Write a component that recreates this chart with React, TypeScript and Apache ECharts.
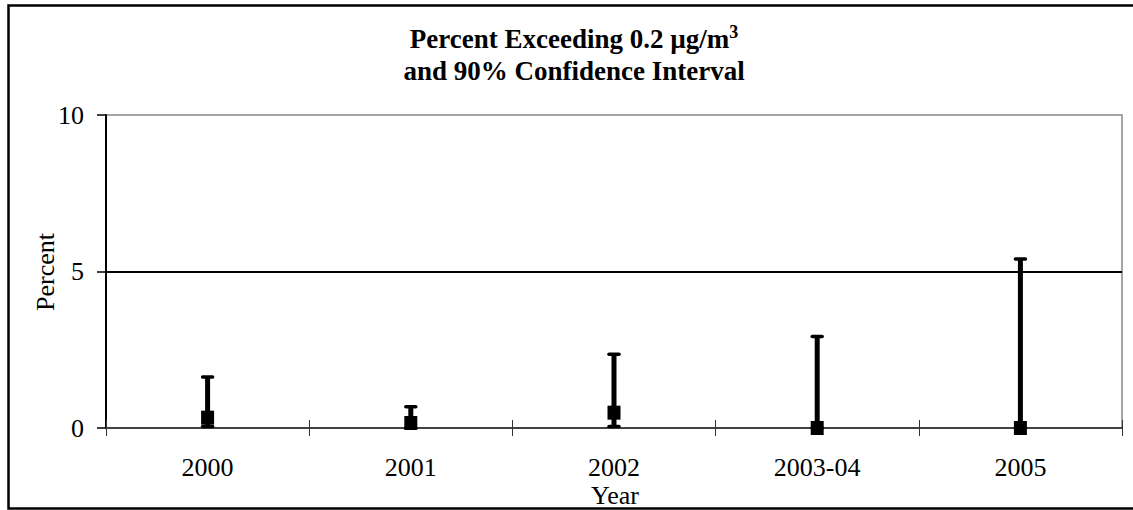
import React, { useEffect, useRef } from "react";
import * as echarts from "echarts";

const categories = ["2000", "2001", "2002", "2003-04", "2005"];
const percentValues = [0.33, 0.16, 0.49, 0, 0];
const lowerBounds = [0.05, 0, 0.05, 0, 0];
const upperBounds = [1.63, 0.68, 2.36, 2.92, 5.4];
const yMin = 0;
const yMax = 10;
const yInterval = 5;
const referenceLine = 5;

const FONT = "'Liberation Serif', 'Times New Roman', serif";

export default function App() {
  const ref = useRef<HTMLDivElement>(null);

  useEffect(() => {
    if (!ref.current) return;
    const chart = echarts.init(ref.current, null, { renderer: "svg" });

    const errorData = categories.map((_, i) => [i, lowerBounds[i], upperBounds[i]]);
    const pointData = categories.map((_, i) => [i, percentValues[i]]);

    const option: any = {
      animation: false,
      backgroundColor: "#ffffff",
      textStyle: { fontFamily: FONT },
      grid: {
        left: 106,
        right: 11,
        top: 115,
        bottom: 82,
        show: true,
        borderColor: "#888888",
        borderWidth: 1.5,
        backgroundColor: "transparent",
      },
      xAxis: [
        {
          type: "category",
          data: categories,
          boundaryGap: true,
          axisLine: { show: true, lineStyle: { color: "#222", width: 1.5 } },
          axisTick: { show: true, inside: false, length: 8, lineStyle: { color: "#333", width: 1 } },
          axisLabel: { color: "#000", fontFamily: FONT, fontSize: 26, margin: 26 },
          splitLine: { show: false },
        },
        {
          type: "category",
          data: categories,
          boundaryGap: true,
          position: "bottom",
          axisLine: { show: false },
          axisTick: { show: true, inside: true, length: 8, lineStyle: { color: "#333", width: 1 } },
          axisLabel: { show: false },
          splitLine: { show: false },
        },
      ],
      yAxis: {
        type: "value",
        min: yMin,
        max: yMax,
        interval: yInterval,
        axisLine: { show: true, lineStyle: { color: "#000", width: 2 } },
        axisTick: { show: true, inside: false, length: 9, lineStyle: { color: "#000", width: 1.5 } },
        axisLabel: { color: "#000", fontFamily: FONT, fontSize: 26, margin: 22 },
        splitLine: { show: false },
      },
      series: [
        {
          type: "custom",
          xAxisIndex: 0,
          yAxisIndex: 0,
          data: errorData,
          encode: { x: 0, y: [1, 2] },
          z: 3,
          renderItem: (params: any, api: any) => {
            const x = api.value(0);
            const lo = api.coord([x, api.value(1)]);
            const hi = api.coord([x, api.value(2)]);
            const capHalf = 5;
            return {
              type: "group",
              children: [
                {
                  type: "line",
                  shape: { x1: lo[0], y1: lo[1], x2: hi[0], y2: hi[1] },
                  style: { stroke: "#000", lineWidth: 5 },
                },
                {
                  type: "line",
                  shape: { x1: hi[0] - capHalf, y1: hi[1], x2: hi[0] + capHalf, y2: hi[1] },
                  style: { stroke: "#000", lineWidth: 3.5, lineCap: "round" },
                },
                {
                  type: "line",
                  shape: { x1: lo[0] - capHalf, y1: lo[1], x2: lo[0] + capHalf, y2: lo[1] },
                  style: { stroke: "#000", lineWidth: 3.5, lineCap: "round" },
                },
              ],
            };
          },
        },
        {
          type: "scatter",
          xAxisIndex: 0,
          yAxisIndex: 0,
          data: pointData,
          symbol: "rect",
          symbolSize: [13, 14],
          itemStyle: { color: "#000", opacity: 1 },
          z: 4,
          markLine: {
            silent: true,
            symbol: "none",
            label: { show: false },
            lineStyle: { color: "#000", width: 2, type: "solid", opacity: 1 },
            data: [{ yAxis: referenceLine }],
          },
        },
      ],
      graphic: [
        {
          type: "rect",
          z: 100,
          shape: { x: 8.5, y: 5.5, width: 1200, height: 503 },
          style: { fill: "none", stroke: "#000", lineWidth: 2.5 },
        },
        {
          type: "text",
          x: 574,
          y: 39,
          style: {
            text: "{a|Percent Exceeding 0.2 µg/m}{s|3}",
            align: "center",
            verticalAlign: "middle",
            rich: {
              a: { fontFamily: FONT, fontSize: 27, fontWeight: "bold", fill: "#000", lineHeight: 32 },
              s: { fontFamily: FONT, fontSize: 18, fontWeight: "bold", fill: "#000", lineHeight: 14, verticalAlign: "top" },
            },
          },
        },
        {
          type: "text",
          x: 574,
          y: 71,
          style: {
            text: "and 90% Confidence Interval",
            align: "center",
            verticalAlign: "middle",
            font: `bold 27px ${FONT}`,
            fill: "#000",
          },
        },
        {
          type: "text",
          x: 45,
          y: 272,
          rotation: Math.PI / 2,
          style: {
            text: "Percent",
            align: "center",
            verticalAlign: "middle",
            font: `26px ${FONT}`,
            fill: "#000",
          },
        },
        {
          type: "text",
          x: 615,
          y: 495,
          style: {
            text: "Year",
            align: "center",
            verticalAlign: "middle",
            font: `26px ${FONT}`,
            fill: "#000",
          },
        },
      ],
    };

    chart.setOption(option);
    return () => chart.dispose();
  }, []);

  return (
    <div
      ref={ref}
      style={{ position: "absolute", left: 0, top: 0, width: 1133, height: 510, background: "#fff" }}
    />
  );
}
